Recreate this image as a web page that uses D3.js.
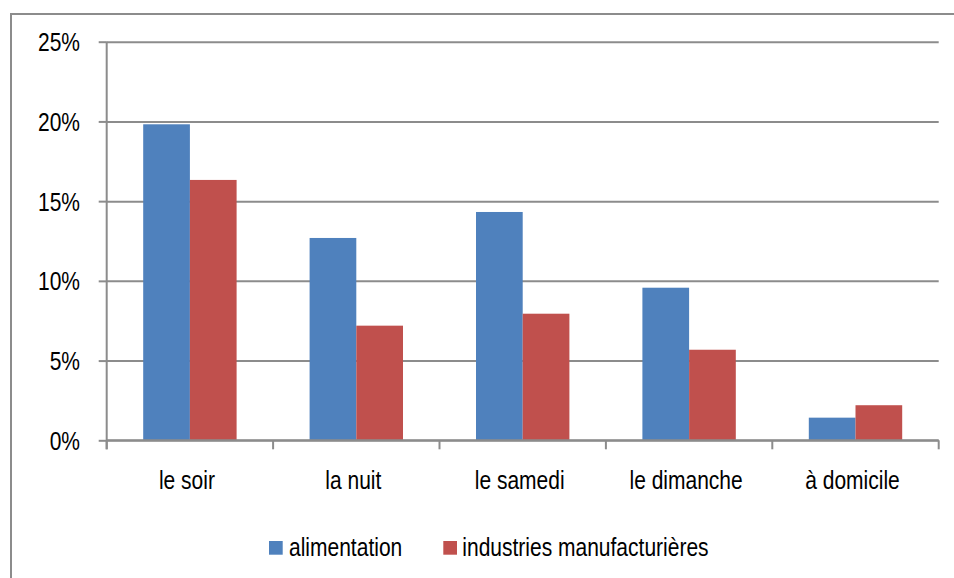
<!DOCTYPE html>
<html><head><meta charset="utf-8">
<script src="https://cdn.jsdelivr.net/npm/d3@7"></script>
<style>
body{margin:0;background:#fff;}
text{font-family:"Liberation Sans Narrow","Arial Narrow","Liberation Sans",sans-serif;fill:#000;}
</style></head>
<body><svg id="c" width="954" height="578"></svg>
<script>
const categories = ["le soir","la nuit","le samedi","le dimanche","à domicile"];
const seriesNames = ["alimentation","industries manufacturières"];
const alimentation = [19.82, 12.69, 14.32, 9.57, 1.42];
const industries = [16.33, 7.19, 7.94, 5.68, 2.2];
const yTicks = [0,5,10,15,20,25];
const colors = ["#4F81BD","#C0504D"];

const svg = d3.select("#c");
svg.append("rect").attr("x",11).attr("y",14).attr("width",980).attr("height",620)
  .attr("fill","#fff").attr("stroke","#8c8c8c").attr("stroke-width",2);

const L=106.7,R=938.7,T=41.7,B=440.3;
const fs = 25;
const x0 = d3.scaleBand().domain(categories).range([L,R]).padding(0);
const x1 = d3.scaleBand().domain(seriesNames).range([36.5, x0.bandwidth()-36.5]).padding(0);
const y = d3.scaleLinear().domain([0,25]).range([B,T]);

// gridlines
const grid = svg.append("g").attr("transform",`translate(${L},0)`)
  .call(d3.axisLeft(y).tickValues(yTicks).tickSize(-(R-L)).tickFormat(""));
grid.select(".domain").remove();
grid.selectAll("line").attr("stroke","#8c8c8c").attr("stroke-width",2);

// bars
const data = categories.map((c,i)=>({c, vals:[alimentation[i], industries[i]]}));
const g = svg.append("g");
g.selectAll("g").data(data).join("g")
  .attr("transform",d=>`translate(${x0(d.c)},0)`)
  .selectAll("rect").data(d=>d.vals.map((v,j)=>({v,s:seriesNames[j],j})))
  .join("rect")
  .attr("x",d=>x1(d.s)).attr("width",x1.bandwidth())
  .attr("y",d=>y(d.v)).attr("height",d=>B-y(d.v))
  .attr("fill",d=>colors[d.j]);

// y axis
const ya = svg.append("g").attr("transform",`translate(${L},0)`)
  .call(d3.axisLeft(y).tickValues(yTicks).tickSize(8).tickSizeOuter(0).tickPadding(18.7).tickFormat(d=>d+"%"));
ya.select(".domain").attr("stroke","#8c8c8c").attr("stroke-width",2).attr("d",`M0,${T}V${B+9}`);
ya.selectAll("line").attr("stroke","#8c8c8c").attr("stroke-width",2);
ya.selectAll("text").style("font-size",fs+"px").attr("dy","0.36em");

// x axis
const xa = svg.append("g").attr("transform",`translate(0,${B})`)
  .call(d3.axisBottom(x0).tickSize(0).tickPadding(0));
xa.select(".domain").attr("stroke","#8c8c8c").attr("stroke-width",2).attr("d",`M${L},0H${R}`);
xa.selectAll("text").style("font-size",fs+"px").attr("y",49).attr("dy",0).attr("dx",-3);
const bounds = categories.map(c=>x0(c)).concat([x0(categories[categories.length-1])+x0.bandwidth()]);
svg.append("g").selectAll("line").data(bounds).join("line")
  .attr("x1",d=>d).attr("x2",d=>d).attr("y1",B).attr("y2",B+9)
  .attr("stroke","#8c8c8c").attr("stroke-width",2);

// legend
const legX=[269,443.3], legTX=[289,462.3];
const leg = svg.append("g");
seriesNames.forEach((s,i)=>{
  leg.append("rect").attr("x",legX[i]).attr("y",541).attr("width",13.7).attr("height",13.7).attr("fill",colors[i]);
  leg.append("text").attr("x",legTX[i]).attr("y",555.7).style("font-size",fs+"px").text(s);
});

// condense text to mimic a narrow face
svg.selectAll("text").each(function(){
  const len = this.getComputedTextLength();
  if (len > 0) d3.select(this).attr("textLength", len*0.84).attr("lengthAdjust","spacingAndGlyphs");
});
</script></body></html>
